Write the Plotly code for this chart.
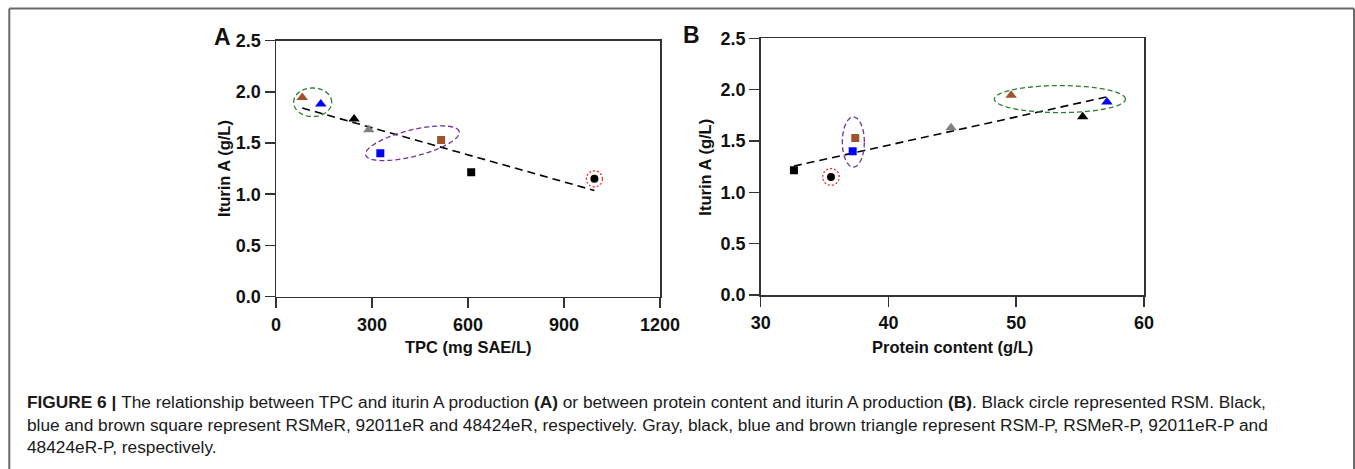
import numpy as np
import plotly.graph_objects as go

# ---------------- data ----------------
samples = ["RSM", "RSMeR", "92011eR", "48424eR", "RSM-P", "RSMeR-P", "92011eR-P", "48424eR-P"]
iturin = [1.15, 1.215, 1.40, 1.53, 1.63, 1.735, 1.88, 1.945]
tpc = [995, 610, 326, 516, 290, 244, 140, 82]
protein = [35.5, 32.6, 37.2, 37.4, 44.9, 55.2, 57.1, 49.6]
symbols = ["circle", "square", "square", "square",
           "triangle-up", "triangle-up", "triangle-up", "triangle-up"]
colors = ["#000000", "#000000", "#0000FF", "#A0522D",
          "#808080", "#000000", "#0000FF", "#A0522D"]

x_ticks_a = [0, 300, 600, 900, 1200]
x_ticks_b = [30, 40, 50, 60]
y_ticks = [0.0, 0.5, 1.0, 1.5, 2.0, 2.5]

caption_lines = [
    "<b>FIGURE 6 | </b>The relationship between TPC and iturin A production <b>(A)</b> or between protein content and iturin A production <b>(B)</b>. Black circle represented RSM. Black,",
    "blue and brown square represent RSMeR, 92011eR and 48424eR, respectively. Gray, black, blue and brown triangle represent RSM-P, RSMeR-P, 92011eR-P and",
    "48424eR-P, respectively.",
]

# ---------------- layout geometry ----------------
W, H = 1355, 469
def px(x): return x / W
def py(y): return 1 - y / H

dom_a_x = [276, 660]; dom_a_y = [40.6, 296.6]
dom_b_x = [760.7, 1144]; dom_b_y = [38.3, 295]
rng_a_x = [0, 1200]; rng_b_x = [30, 60]; rng_y = [0, 2.5]

fig = go.Figure()

def add_panel(xs, xaxis, yaxis):
    slope, inter = np.polyfit(xs, iturin, 1)
    xl = np.array([min(xs), max(xs)])
    fig.add_trace(go.Scatter(x=xl, y=slope * xl + inter, mode="lines",
                             line=dict(color="black", width=1.6, dash="8px,5px"),
                             xaxis=xaxis, yaxis=yaxis, showlegend=False, hoverinfo="skip"))
    for i in range(len(samples)):
        fig.add_trace(go.Scatter(x=[xs[i]], y=[iturin[i]], mode="markers", name=samples[i],
                                 marker=dict(symbol=symbols[i], color=colors[i],
                                             size=8 if symbols[i] != "triangle-up" else 10,
                                             line=dict(width=0)),
                                 xaxis=xaxis, yaxis=yaxis, showlegend=False))

add_panel(tpc, "x", "y")
add_panel(protein, "x2", "y2")

# ---------------- highlight ellipses ----------------
def ellipse(cx, cy, a, b, ang, xref, yref, domx, domy, rx, color, dash):
    sx = (rx[1] - rx[0]) / (domx[1] - domx[0])
    sy = (rng_y[1] - rng_y[0]) / (domy[1] - domy[0])
    th = np.deg2rad(ang)
    t = np.linspace(0, 2 * np.pi, 97)
    dx = a * np.cos(t) * np.cos(th) - b * np.sin(t) * np.sin(th)
    dy = a * np.cos(t) * np.sin(th) + b * np.sin(t) * np.cos(th)
    xs_ = cx + dx * sx; ys_ = cy + dy * sy
    path = "M " + " L ".join(f"{x:.5f},{y:.5f}" for x, y in zip(xs_, ys_)) + " Z"
    fig.add_shape(type="path", path=path, xref=xref, yref=yref,
                  line=dict(color=color, width=1.3, dash=dash), layer="above")

GREEN = "#2E7D32"; PURPLE = "#7030A0"; RED = "#FF2020"
# panel A
ellipse(114.6, 1.898, 19, 14.3, 0, "x", "y", dom_a_x, dom_a_y, rng_a_x, GREEN, "5px,3px")
ellipse(426.5, 1.4975, 48.2, 13.2, 14, "x", "y", dom_a_x, dom_a_y, rng_a_x, PURPLE, "5px,3px")
ellipse(tpc[0], iturin[0], 8, 8, 0, "x", "y", dom_a_x, dom_a_y, rng_a_x, RED, "2px,2px")
# panel B
ellipse(53.42, 1.908, 65.5, 13.5, 0, "x2", "y2", dom_b_x, dom_b_y, rng_b_x, GREEN, "5px,3px")
ellipse(37.25, 1.49, 11, 25, 0, "x2", "y2", dom_b_x, dom_b_y, rng_b_x, PURPLE, "5px,3px")
ellipse(protein[0], iturin[0], 8.3, 8.3, 0, "x2", "y2", dom_b_x, dom_b_y, rng_b_x, RED, "2px,2px")

# ---------------- axes ----------------
tickfont = dict(family="Liberation Sans, Arial, sans-serif", size=18, color="#111111", weight="bold")
ax_common = dict(showline=True, linecolor="#333333", linewidth=1.5, mirror=True,
                 ticks="outside", ticklen=10, tickwidth=1.5, tickcolor="#333333",
                 showgrid=False, zeroline=False, tickfont=tickfont)

fig.update_layout(
    width=W, height=H,
    margin=dict(l=0, r=0, t=0, b=0, pad=0, autoexpand=False),
    paper_bgcolor="white", plot_bgcolor="white",
    xaxis=dict(domain=[px(dom_a_x[0]), px(dom_a_x[1])], range=rng_a_x, tickvals=x_ticks_a,
               anchor="y", ticklabelstandoff=1, **ax_common),
    yaxis=dict(domain=[py(dom_a_y[1]), py(dom_a_y[0])], range=rng_y, tickvals=y_ticks,
               tickformat=".1f", anchor="x", **ax_common),
    xaxis2=dict(domain=[px(dom_b_x[0]), px(dom_b_x[1])], range=rng_b_x, tickvals=x_ticks_b,
                anchor="y2", ticklabelstandoff=1, **ax_common),
    yaxis2=dict(domain=[py(dom_b_y[1]), py(dom_b_y[0])], range=rng_y, tickvals=y_ticks,
                tickformat=".1f", anchor="x2", **ax_common),
    showlegend=False,
)

# ---------------- text annotations ----------------
titlefont = dict(family="Liberation Sans, Arial, sans-serif", size=16.5, color="#111111")
def ann(x, y, text, angle=0, xanchor="center", font=None):
    fig.add_annotation(x=px(x), y=py(y), xref="paper", yref="paper", text=text,
                       showarrow=False, xanchor=xanchor, yanchor="middle",
                       textangle=angle, font=font or titlefont)

ann((dom_a_x[0] + dom_a_x[1]) / 2, 346.7, "<b>TPC (mg SAE/L)</b>")
ann((dom_b_x[0] + dom_b_x[1]) / 2, 346.7, "<b>Protein content (g/L)</b>")
ann(223.3, (dom_a_y[0] + dom_a_y[1]) / 2, "<b>Iturin A (g/L)</b>", angle=-90)
ann(705, (dom_b_y[0] + dom_b_y[1]) / 2, "<b>Iturin A (g/L)</b>", angle=-90)

panel_font = dict(family="Liberation Sans, Arial, sans-serif", size=23, color="#111111")
ann(222, 36.7, "<b>A</b>", font=panel_font)
ann(691.7, 35, "<b>B</b>", font=panel_font)

cap_font = dict(family="Liberation Sans, Arial, sans-serif", size=17.3, color="#1a1a1a")
for text, yy in zip(caption_lines, [402, 424.5, 447]):
    ann(25, yy, text, xanchor="left", font=cap_font)

# ---------------- outer frame ----------------
frame = dict(color="#6a6a6a", width=2)
fig.add_shape(type="line", xref="paper", yref="paper", x0=px(9.3), x1=px(1354), y0=py(8.5), y1=py(8.5), line=frame)
fig.add_shape(type="line", xref="paper", yref="paper", x0=px(9.3), x1=px(9.3), y0=py(8.5), y1=py(470), line=frame)
fig.add_shape(type="line", xref="paper", yref="paper", x0=px(1354), x1=px(1354), y0=py(8.5), y1=py(470), line=frame)

fig.write_html("out.html",
               config={"displayModeBar": False, "staticPlot": True},
               post_script="document.documentElement.style.margin='0';"
                           "document.body.style.margin='0';"
                           "document.body.style.overflow='hidden';")
